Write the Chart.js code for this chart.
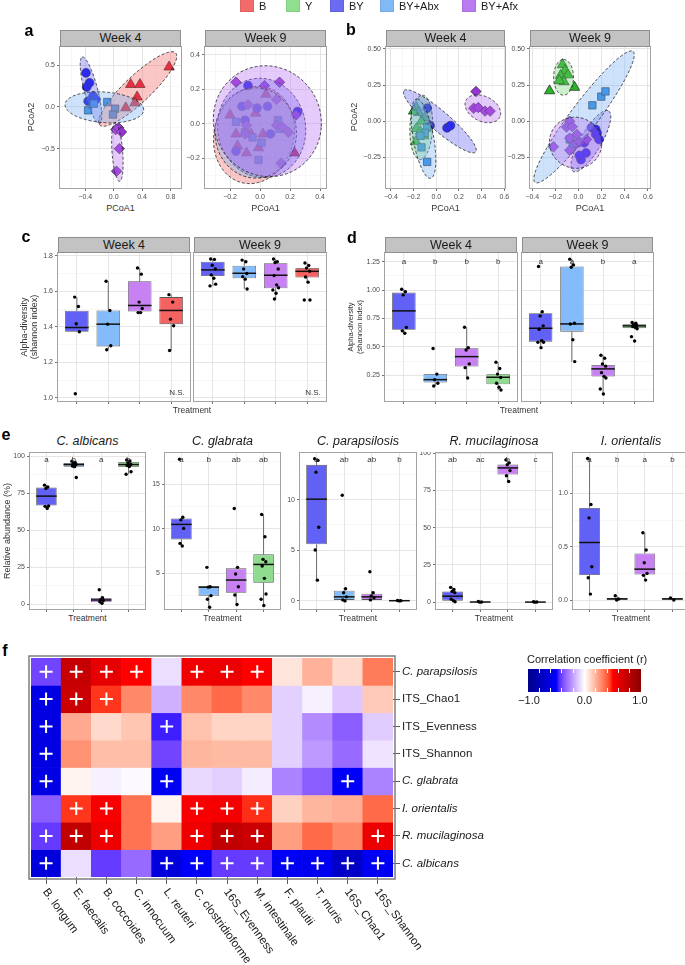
<!DOCTYPE html>
<html>
<head>
<meta charset="utf-8">
<title>Figure</title>
<script src="https://cdn.jsdelivr.net/npm/chart.js@4.4.1/dist/chart.umd.min.js"></script>
<style>
  html, body { margin: 0; padding: 0; background: #fff; }
  #page { position: relative; width: 685px; height: 965px; overflow: hidden; font-family: 'Liberation Sans', Arial, Helvetica, sans-serif; }
  #page canvas { position: absolute; }
  .t { position: absolute; white-space: pre; color: #1a1a1a; z-index: 5; line-height: 1.15; }
  .strip { position: absolute; background: #c3c3c3; border: 1px solid #8f8f8f; box-sizing: border-box; text-align: center; font-size: 12.5px; color: #1a1a1a; z-index: 4; }
  .sw { position: absolute; width: 14px; height: 14px; box-sizing: border-box; border: 1px solid rgba(0,0,0,0.08); z-index: 4; }
</style>
</head>
<body>
<div id="page"></div>
<script>
const FONT = "'Liberation Sans', Arial, Helvetica, sans-serif";
Chart.defaults.font.family = FONT;

// ---------- data ----------
const groups = ['B', 'Y', 'BY', 'BY+Abx', 'BY+Afx'];

// PCoA coordinates [PCoA1, PCoA2]
const pcoaA4 = {
  'BY+Afx': [[0.03,-0.27],[0.07,-0.25],[0.11,-0.30],[0.08,-0.50],[0.04,-0.77]],
  'BY+Abx': [[-0.36,-0.04],[-0.28,0.04],[-0.09,0.06],[0.02,-0.02],[-0.01,-0.09]],
  'BY': [[-0.39,0.41],[-0.34,0.29],[-0.38,0.24],[-0.29,0.13],[-0.25,0.09],[-0.36,0.07]],
  'B': [[0.24,0.27],[0.37,0.27],[0.33,0.12],[0.30,0.05],[0.17,-0.01],[0.78,0.48]]
};
const pcoaA9 = {
  'BY+Afx': [[-0.16,0.24],[0.03,0.22],[0.13,0.24],[0.11,0.14],[-0.08,0.11],[-0.09,-0.01],[0.11,-0.01],[0.15,-0.02],[0.19,-0.05],[0.24,0.05],[0.14,-0.23],[-0.1,-0.06]],
  'BY+Abx': [[-0.16,0.01],[-0.1,-0.05],[-0.05,-0.08],[0.12,0.02],[0.13,-0.03],[0.01,-0.11],[-0.01,-0.21]],
  'BY': [[-0.08,0.22],[-0.12,0.10],[-0.02,0.09],[0.05,0.10],[-0.1,0.02],[0.07,-0.06],[-0.16,-0.16],[0.25,0.07]],
  'B': [[-0.2,0.05],[0.04,0.17],[-0.03,0.06],[-0.16,-0.06],[-0.06,-0.06],[0.02,-0.06],[-0.15,-0.13],[-0.09,-0.17],[-0.01,-0.14],[0.23,-0.17]]
};
const pcoaB4 = {
  'BY+Afx': [[0.35,0.205],[0.33,0.09],[0.37,0.095],[0.43,0.07],[0.475,0.07]],
  'BY+Abx': [[-0.08,-0.045],[-0.1,-0.08],[-0.14,-0.1],[-0.13,-0.18],[-0.08,-0.28]],
  'BY': [[-0.08,0.09],[-0.055,-0.03],[0.095,-0.045],[0.125,-0.03]],
  'Y': [[-0.175,0.095],[-0.155,0.06],[-0.2,0.07],[-0.1,0.025],[-0.13,0.0],[-0.175,-0.05],[-0.18,-0.14],[-0.11,-0.1],[-0.14,-0.07]]
};
const pcoaB9 = {
  'BY+Afx': [[-0.076,0.0],[-0.104,-0.04],[-0.053,-0.037],[-0.216,-0.176],[-0.076,-0.116],[-0.02,-0.153],[-0.014,-0.09],[-0.076,-0.2],[0.07,-0.125],[0.008,-0.143]],
  'BY+Abx': [[0.12,0.11],[0.197,0.17],[0.233,0.206],[-0.076,-0.125],[-0.05,-0.16]],
  'BY': [[0.112,-0.044],[0.149,-0.09],[0.177,-0.125],[0.149,-0.056],[0.05,-0.148],[0.065,-0.218],[0.022,-0.264],[0.008,-0.236],[0.16,-0.08]],
  'Y': [[-0.25,0.21],[-0.138,0.39],[-0.118,0.35],[-0.155,0.315],[-0.09,0.32],[-0.126,0.273],[-0.166,0.28],[-0.034,0.234]]
};

// confidence ellipses: centre and two conjugate semi-axes, in data units
const ellA4 = [
  {g:'B', c:[0.338,0.216], a:[0.535,0.432], b:[0.129,-0.116]},
  {g:'BY', c:[-0.319,0.2], a:[-0.122,0.4], b:[0.091,0.02]},
  {g:'BY+Abx', c:[-0.131,-0.004], a:[0.554,-0.03], b:[0.0,0.184]},
  {g:'BY+Afx', c:[0.052,-0.544], a:[-0.03,0.348], b:[0.075,0.0]}
];
const ellA9 = [
  {g:'B', c:[-0.04,-0.066], a:[0.27,0.03], b:[0.0,0.28]},
  {g:'BY', c:[0.011,-0.025], a:[0.28,-0.1], b:[0.09,0.27]},
  {g:'BY+Abx', c:[-0.029,-0.054], a:[0.27,-0.03], b:[0.03,0.26]},
  {g:'BY+Afx', c:[0.049,0.014], a:[0.36,-0.03], b:[0.02,0.32]}
];
const ellB4 = [
  {g:'Y', c:[-0.132,-0.042], a:[0.01,0.222], b:[0.1,0.0]},
  {g:'BY', c:[0.032,0.0], a:[-0.316,0.211], b:[0.055,0.053]},
  {g:'BY+Abx', c:[-0.112,-0.12], a:[-0.052,0.273], b:[0.095,-0.018]},
  {g:'BY+Afx', c:[0.411,0.086], a:[0.155,-0.045], b:[0.025,0.085]}
];
const ellB9 = [
  {g:'Y', c:[-0.129,0.303], a:[0.0,0.123], b:[0.086,0.0]},
  {g:'BY', c:[0.107,-0.137], a:[0.154,0.208], b:[0.077,-0.039]},
  {g:'BY+Abx', c:[0.048,0.03], a:[0.424,0.451], b:[0.093,-0.059]},
  {g:'BY+Afx', c:[-0.025,-0.148], a:[0.225,-0.02], b:[0.02,0.175]}
];

// box plots: [lower whisker, q1, median, q3, upper whisker]
const cCats = ['BY', 'BY+Abx', 'BY+Afx', 'B'];
const c4Box = [[1.372,1.372,1.396,1.49,1.567],[1.271,1.29,1.415,1.492,1.656],[1.48,1.486,1.52,1.656,1.731],[1.267,1.415,1.492,1.567,1.581]];
const c4Pts = [[1.567,1.514,1.417,1.372,1.024],[1.656,1.492,1.415,1.294,1.271],[1.731,1.696,1.539,1.503,1.48,1.48],[1.581,1.539,1.443,1.406,1.267]];
const c9Box = [[1.63,1.686,1.72,1.766,1.781],[1.613,1.673,1.701,1.744,1.775],[1.556,1.617,1.69,1.757,1.781],[1.651,1.677,1.712,1.731,1.759]];
const c9Pts = [[1.781,1.779,1.746,1.725,1.692,1.673,1.64,1.63],[1.775,1.766,1.725,1.70,1.682,1.668,1.613],[1.781,1.766,1.762,1.725,1.688,1.636,1.62,1.607,1.589,1.556],[1.759,1.745,1.73,1.713,1.68,1.651,1.551,1.551]];

const dCats = ['BY', 'BY+Abx', 'BY+Afx', 'Y'];
const d4Box = [[0.62,0.65,0.817,0.978,1.008],[0.155,0.185,0.211,0.261,0.261],[0.226,0.326,0.414,0.488,0.673],[0.12,0.17,0.232,0.259,0.365]];
const d4Pts = [[1.008,0.985,0.958,0.67,0.641,0.62],[0.485,0.26,0.21,0.18,0.155],[0.673,0.493,0.473,0.35,0.317,0.226],[0.365,0.31,0.26,0.23,0.18,0.144,0.12]];
const d9Box = [[0.493,0.546,0.664,0.797,0.81],[0.37,0.634,0.702,1.208,1.273],[0.085,0.238,0.306,0.34,0.426],[0.655,0.665,0.685,0.70,0.715]];
const d9Pts = [[1.208,0.81,0.773,0.685,0.655,0.555,0.541,0.541,0.493],[1.273,1.222,1.202,0.709,0.702,0.563,0.37],[0.426,0.40,0.35,0.33,0.273,0.24,0.226,0.129,0.085],[0.715,0.708,0.695,0.688,0.68,0.672,0.66,0.59,0.552]];
const d4Letters = ['a', 'b', 'b', 'b'];
const d9Letters = ['a', 'a', 'b', 'a'];

const eCats = ['BY', 'BY+Abx', 'BY+Afx', 'Y'];
const eTitles = ['C. albicans', 'C. glabrata', 'C. parapsilosis', 'R. mucilaginosa', 'I. orientalis'];
const eBox = [
  [[64.8,66.8,73.1,78.9,80.5],[93,93,94.4,95.5,96.6],[0.8,1.5,3.0,4.3,5.5],[87.9,92.8,94.4,96.2,97.5]],
  [[8.06,8.81,10.49,11.16,11.3],[1.2,2.5,3.45,3.55,3.6],[1.5,2.83,4.25,5.56,5.67],[1.4,3.95,6.0,7.13,11.6]],
  [[2.05,5.58,10.04,13.43,14.03],[0,0.1,0.4,1.0,1.3],[0,0.1,0.4,0.7,1.0],[0,0,0.02,0.05,0.05]],
  [[0.3,1.0,4.0,7.2,9.9],[0,0,0.1,0.3,0.5],[81,85.7,90.1,92.3,95.5],[0,0,0.05,0.2,0.3]],
  [[0.056,0.234,0.54,0.865,1.328],[0,0,0.01,0.02,0.04],[0.187,0.24,0.29,0.437,0.631],[0,0,0.01,0.02,0.02]]
];
const ePts = [
  [[80.5,79.2,78.3,66.4,66.2,64.8],[96.6,95.8,95.1,94.4,93.4,93.0,85.7],[9.9,4.5,3.2,2.6,1.8,0.8],[97.5,96.8,95.5,94.4,93.8,93.1,89.5,87.9]],
  [[17.8,11.3,11.0,10.04,8.36,8.06],[5.67,3.5,3.45,2.5,2.1,1.2],[12.28,5.67,4.92,3.5,2.57,1.5],[11.6,9.1,6.57,6.3,5.82,4.44,2.68,2.09,1.4]],
  [[14.03,13.87,12.71,7.27,5.02,2.05],[10.43,1.2,0.8,0.4,0.1,0.0],[2.87,0.8,0.5,0.3,0.1],[0.05,0.02,0.0]],
  [[9.9,8.5,7.2,6.4,2.0,1.0,0.3],[0.5,0.1,0.0],[95.5,93.5,92.2,88.3,84.8,81.0],[0.3,0.1,0.0]],
  [[1.328,0.897,0.771,0.312,0.209,0.056],[0.04,0.01,0.0],[0.631,0.469,0.35,0.25,0.232,0.187],[0.02,0.0]]
];
const eLetters = [['a','b','a','b'],['a','b','ab','ab'],['a','ab','ab','b'],['ab','ac','b','c'],['a','b','a','b']];

// correlation heatmap
const hmRows = ['C. parapsilosis','ITS_Chao1','ITS_Evenness','ITS_Shannon','C. glabrata','I. orientalis','R. mucilaginosa','C. albicans'];
const hmCols = ['B. longum','E. faecalis','B. coccoides','C. innocuum','L. reuteri','C. clostridioforme','16S_Evenness','M. intestinale','F. plautii','T. muris','16S_Chao1','16S_Shannon'];
const hmR = [
  [-0.40,0.74,0.60,0.50,-0.07,0.56,0.58,0.50,0.07,0.20,0.10,0.33],
  [-0.62,0.72,0.46,0.30,-0.17,0.30,0.37,0.30,-0.10,-0.03,-0.12,0.14],
  [-0.62,0.22,0.10,0.15,-0.47,0.16,0.11,0.11,-0.10,-0.25,-0.35,-0.11],
  [-0.62,0.28,0.17,0.17,-0.40,0.19,0.18,0.18,-0.10,-0.22,-0.32,-0.06],
  [-0.62,0.03,-0.03,-0.01,-0.55,-0.08,-0.10,-0.04,-0.27,-0.35,-0.52,-0.27],
  [-0.35,0.46,0.53,0.35,0.03,0.53,0.54,0.47,0.12,0.19,0.21,0.37],
  [-0.42,0.76,0.57,0.35,0.25,0.57,0.76,0.72,0.25,0.37,0.30,0.58],
  [-0.64,-0.07,-0.42,-0.32,-0.64,-0.52,-0.42,-0.42,-0.54,-0.56,-0.74,-0.54]
];
const hmSig = [
  [1,1,1,1,0,1,1,1,0,0,0,0],
  [1,1,1,0,0,0,0,0,0,0,0,0],
  [1,0,0,0,1,0,0,0,0,0,0,0],
  [1,0,0,0,0,0,0,0,0,0,0,0],
  [1,0,0,0,1,0,0,0,0,0,1,0],
  [0,1,1,0,0,1,1,1,0,0,0,0],
  [1,1,1,0,0,1,1,1,0,0,0,1],
  [1,0,0,0,1,1,1,1,1,1,1,1]
];

// ---------- styles ----------
const legendFill = {'B':'#f36a6a','Y':'#8ee08e','BY':'#6a6af2','BY+Abx':'#80b9f5','BY+Afx':'#b97af2'};
const boxFill = {'B':'#f46262','Y':'#8fdc8f','BY':'#6161f6','BY+Abx':'#84bcfb','BY+Afx':'#c781f2'};
const ptFill = {'B':'#e5122f','Y':'#25b525','BY':'#0b0bf2','BY+Abx':'#2b8de6','BY+Afx':'#9933d6'};
const ptShape = {'B':['triangle',6],'Y':['triangle',6],'BY':['circle',4.4],'BY+Abx':['rect',5.2],'BY+Afx':['rectRot',5.2]};
const ellFill = {'B':'rgba(240,96,96,0.36)','Y':'rgba(115,212,115,0.36)','BY':'rgba(96,96,240,0.36)','BY+Abx':'rgba(120,178,243,0.36)','BY+Afx':'rgba(182,110,243,0.36)'};
const jit = [-0.07,0.05,-0.02,0.08,-0.05,0.03,0.09,-0.09,0.01,-0.04];

const page = document.getElementById('page');
const f0 = v => String(v);
const f1 = v => (v < 0 ? '\u2212' : '') + Math.abs(v).toFixed(1);
const f2 = v => (v < 0 ? '\u2212' : '') + Math.abs(v).toFixed(2);

// ---------- colour scale (Lab interpolation like ggplot) ----------
function hex2rgb(h) { return [parseInt(h.slice(1,3),16), parseInt(h.slice(3,5),16), parseInt(h.slice(5,7),16)]; }
function rgb2lab(c) {
  const f = v => { v /= 255; return v <= 0.04045 ? v / 12.92 : Math.pow((v + 0.055) / 1.055, 2.4); };
  const R = f(c[0]), G = f(c[1]), B = f(c[2]);
  let X = (R*0.4124 + G*0.3576 + B*0.1805) / 0.95047, Y = R*0.2126 + G*0.7152 + B*0.0722, Z = (R*0.0193 + G*0.1192 + B*0.9505) / 1.08883;
  const g = t => t > 0.008856 ? Math.cbrt(t) : 7.787*t + 16/116;
  X = g(X); Y = g(Y); Z = g(Z);
  return [116*Y - 16, 500*(X - Y), 200*(Y - Z)];
}
function lab2rgb(l) {
  let Y = (l[0] + 16) / 116, X = l[1] / 500 + Y, Z = Y - l[2] / 200;
  const h = t => { const t3 = t*t*t; return t3 > 0.008856 ? t3 : (t - 16/116) / 7.787; };
  X = h(X) * 0.95047; Y = h(Y); Z = h(Z) * 1.08883;
  const R = X*3.2406 - Y*1.5372 - Z*0.4986, G = -X*0.9689 + Y*1.8758 + Z*0.0415, B = X*0.0557 - Y*0.2040 + Z*1.0570;
  const c = v => { v = v <= 0.0031308 ? 12.92*v : 1.055*Math.pow(v, 1/2.4) - 0.055; return Math.max(0, Math.min(255, Math.round(v*255))); };
  return [c(R), c(G), c(B)];
}
const cmapStops = [[-1,'#00008B'],[-0.5,'#0000FF'],[0,'#FFFFFF'],[0.5,'#FF0000'],[1,'#8B0000']].map(s => [s[0], rgb2lab(hex2rgb(s[1]))]);
function cmap(v) {
  v = Math.max(-1, Math.min(1, v));
  let i = 0;
  while (i < cmapStops.length - 2 && v > cmapStops[i+1][0]) i++;
  const [v0, l0] = cmapStops[i], [v1, l1] = cmapStops[i+1];
  const t = (v - v0) / (v1 - v0);
  const rgb = lab2rgb([0,1,2].map(k => l0[k] + (l1[k] - l0[k]) * t));
  return 'rgb(' + rgb.join(',') + ')';
}

// ---------- helpers ----------
function txt(x, y, s, o = {}) {
  const d = document.createElement('div');
  d.className = 't';
  d.textContent = s;
  d.style.left = x + 'px'; d.style.top = y + 'px';
  d.style.fontSize = (o.size || 11) + 'px';
  if (o.italic) d.style.fontStyle = 'italic';
  if (o.bold) d.style.fontWeight = 'bold';
  if (o.color) d.style.color = o.color;
  if (o.align) d.style.textAlign = o.align;
  let tr = '';
  if (o.center) tr += 'translate(-50%,-50%) ';
  if (o.rot) tr += 'rotate(' + o.rot + 'deg)';
  d.style.transform = tr;
  page.appendChild(d);
  return d;
}
function strip(l, t, w, h, s) {
  const d = document.createElement('div');
  d.className = 'strip';
  Object.assign(d.style, {left: l + 'px', top: t + 'px', width: w + 'px', height: h + 'px', lineHeight: (h - 2) + 'px'});
  d.textContent = s;
  page.appendChild(d);
}
function mkCanvas(plot, m) {
  const c = document.createElement('canvas');
  const w = plot[2] - plot[0] + m[0] + m[2], h = plot[3] - plot[1] + m[1] + m[3];
  c.width = w; c.height = h;
  Object.assign(c.style, {left: (plot[0] - m[0]) + 'px', top: (plot[1] - m[1]) + 'px', width: w + 'px', height: h + 'px'});
  page.appendChild(c);
  return c;
}
function axis(o) {
  const all = o.major.concat(o.minor || []).sort((p, q) => p - q);
  const isMaj = v => o.major.some(mv => Math.abs(mv - v) < 1e-9);
  const show = o.show !== false;
  return {
    type: 'linear', min: o.min, max: o.max, offset: false,
    afterBuildTicks: s => { s.ticks = all.map(v => ({value: v})); },
    afterFit: s => {
      if (o.h !== undefined) s.height = o.h; else s.width = o.w;
      s.paddingLeft = s.paddingRight = s.paddingTop = s.paddingBottom = 0;
    },
    ticks: {
      display: show && !!o.fmt, autoSkip: false, maxRotation: 0, minRotation: 0, padding: 2,
      color: '#4d4d4d', font: {family: FONT, size: 7},
      callback: v => (isMaj(v) && o.fmt) ? o.fmt(v) : ''
    },
    grid: {
      offset: false, drawTicks: show, tickLength: 3, tickWidth: 0.7,
      tickColor: c => (c.tick && isMaj(c.tick.value)) ? '#333' : 'rgba(0,0,0,0)',
      color: c => (c.tick && isMaj(c.tick.value)) ? '#e2e2e2' : '#f2f2f2',
      lineWidth: c => (c.tick && isMaj(c.tick.value)) ? 0.9 : 0.6
    },
    border: {display: false}
  };
}
function baseOpts(m, xs, ys) {
  return {
    responsive: false, animation: false, devicePixelRatio: 1, events: [],
    layout: {autoPadding: false, padding: {left: 0, top: m[1], right: m[2], bottom: 0}},
    plugins: {legend: {display: false}, tooltip: {enabled: false}},
    scales: {x: xs, y: ys}
  };
}

// ---------- plugins ----------
const framePlugin = () => ({
  id: 'frame',
  afterDraw(ch) {
    const {ctx, chartArea: a} = ch;
    ctx.save(); ctx.strokeStyle = '#a3a3a3'; ctx.lineWidth = 1;
    ctx.strokeRect(a.left - 0.5, a.top - 0.5, a.width + 1, a.height + 1);
    ctx.restore();
  }
});
const ellPlugin = list => ({
  id: 'ellipses',
  afterDatasetsDraw(ch) {
    const {ctx, chartArea: a, scales: {x, y}} = ch;
    ctx.save();
    ctx.beginPath(); ctx.rect(a.left, a.top, a.width, a.height); ctx.clip();
    list.forEach(e => {
      ctx.beginPath();
      for (let k = 0; k <= 120; k++) {
        const t = k / 120 * Math.PI * 2;
        const px = x.getPixelForValue(e.c[0] + e.a[0] * Math.cos(t) + e.b[0] * Math.sin(t));
        const py = y.getPixelForValue(e.c[1] + e.a[1] * Math.cos(t) + e.b[1] * Math.sin(t));
        if (k) ctx.lineTo(px, py); else ctx.moveTo(px, py);
      }
      ctx.closePath();
      ctx.fillStyle = ellFill[e.g]; ctx.fill();
      ctx.setLineDash([3, 2]); ctx.lineWidth = 0.8; ctx.strokeStyle = '#222'; ctx.stroke();
      ctx.setLineDash([]);
    });
    ctx.restore();
  }
});
const boxPlugin = box => ({
  id: 'boxes',
  beforeDatasetsDraw(ch) {
    const {ctx, scales: {x, y}} = ch;
    ctx.save(); ctx.strokeStyle = '#4d4d4d'; ctx.lineWidth = 0.8;
    box.forEach((b, i) => {
      const px = x.getPixelForValue(i + 1);
      ctx.beginPath();
      ctx.moveTo(px, y.getPixelForValue(b[0])); ctx.lineTo(px, y.getPixelForValue(b[1]));
      ctx.moveTo(px, y.getPixelForValue(b[3])); ctx.lineTo(px, y.getPixelForValue(b[4]));
      ctx.stroke();
    });
    ctx.restore();
  },
  afterDatasetDraw(ch, args) {
    if (ch.data.datasets[args.index].type !== 'bar') return;
    const {ctx, scales: {x, y}} = ch;
    ctx.save(); ctx.strokeStyle = '#111'; ctx.lineWidth = 1.5;
    box.forEach((b, i) => {
      const py = y.getPixelForValue(b[2]);
      ctx.beginPath();
      ctx.moveTo(x.getPixelForValue(i + 1 - 0.375), py);
      ctx.lineTo(x.getPixelForValue(i + 1 + 0.375), py);
      ctx.stroke();
    });
    ctx.restore();
  }
});
const letterPlugin = (labels, off) => ({
  id: 'letters',
  afterDatasetsDraw(ch) {
    if (!labels) return;
    const {ctx, chartArea: a, scales: {x}} = ch;
    ctx.save(); ctx.font = '8px ' + FONT; ctx.fillStyle = '#333';
    ctx.textAlign = 'center'; ctx.textBaseline = 'middle';
    labels.forEach((l, i) => ctx.fillText(l, x.getPixelForValue(i + 1), a.top + off));
    ctx.restore();
  }
});

// ---------- chart builders ----------
function pcoa(plot, m, xs, ys, dataObj, ells) {
  const cv = mkCanvas(plot, m);
  const ds = Object.keys(dataObj).map(g => ({
    type: 'scatter',
    data: dataObj[g].map(p => ({x: p[0], y: p[1]})),
    pointStyle: ptShape[g][0], pointRadius: ptShape[g][1],
    pointBackgroundColor: ptFill[g], pointBorderColor: '#222', pointBorderWidth: 0.7
  }));
  new Chart(cv, {type: 'scatter', data: {datasets: ds}, options: baseOpts(m, xs, ys), plugins: [ellPlugin(ells), framePlugin()]});
}
function boxChart(plot, m, cats, box, pts, ys, letters, off) {
  const cv = mkCanvas(plot, m);
  const pointData = [];
  pts.forEach((arr, i) => arr.forEach((v, j) => pointData.push({x: i + 1 + jit[j % jit.length], y: v})));
  const xs = axis({min: 0.4, max: 4.6, major: [1, 2, 3, 4], h: m[3]});
  new Chart(cv, {
    type: 'bar',
    data: {datasets: [
      {type: 'scatter', order: 1, data: pointData, pointRadius: 1.7, pointBackgroundColor: '#000', pointBorderWidth: 0},
      {type: 'bar', order: 2, data: box.map((b, i) => ({x: i + 1, y: [b[1], b[3]]})),
       backgroundColor: cats.map(c => boxFill[c]), borderColor: '#595959', borderWidth: 0.8,
       borderSkipped: false, barPercentage: 0.75, categoryPercentage: 1, grouped: false}
    ]},
    options: baseOpts(m, xs, ys),
    plugins: [boxPlugin(box), letterPlugin(letters, off), framePlugin()]
  });
}

// ---------- panel a / b ----------
pcoa([60,47,181,188], [30,1,4,12],
  axis({min:-0.756, max:0.948, major:[-0.4,0,0.4,0.8], minor:[-0.6,-0.2,0.2,0.6], h:12, fmt:f1}),
  axis({min:-0.972, max:0.72, major:[-0.5,0,0.5], minor:[-0.75,-0.25,0.25], w:30, fmt:f1}), pcoaA4, ellA4);
pcoa([205,47,326,188], [22,1,8,12],
  axis({min:-0.367, max:0.44, major:[-0.2,0,0.2,0.4], minor:[-0.3,-0.1,0.1,0.3], h:12, fmt:f1}),
  axis({min:-0.373, max:0.444, major:[-0.2,0,0.2,0.4], minor:[-0.3,-0.1,0.1,0.3], w:22, fmt:f1}), pcoaA9, ellA9);
pcoa([386,47,505,188], [32,1,8,12],
  axis({min:-0.443, max:0.606, major:[-0.4,-0.2,0,0.2,0.4,0.6], minor:[-0.3,-0.1,0.1,0.3,0.5], h:12, fmt:f1}),
  axis({min:-0.46, max:0.512, major:[-0.25,0,0.25,0.5], minor:[-0.375,-0.125,0.125,0.375], w:32, fmt:f2}), pcoaB4, ellB4);
pcoa([530,47,650,188], [25,1,10,12],
  axis({min:-0.419, max:0.618, major:[-0.4,-0.2,0,0.2,0.4,0.6], minor:[-0.3,-0.1,0.1,0.3,0.5], h:12, fmt:f1}),
  axis({min:-0.46, max:0.512, major:[-0.25,0,0.25,0.5], minor:[-0.375,-0.125,0.125,0.375], w:25, fmt:f2}), pcoaB9, ellB9);

// ---------- panel c / d ----------
const cY = {min:0.983, max:1.815, major:[1.0,1.2,1.4,1.6,1.8], minor:[1.1,1.3,1.5,1.7]};
boxChart([58,253,190,401], [22,1,2,4], cCats, c4Box, c4Pts, axis(Object.assign({w:22, fmt:f1}, cY)), null, 0);
boxChart([194,253,326,401], [1,1,2,4], cCats, c9Box, c9Pts, axis(Object.assign({w:1, show:false}, cY)), null, 0);
const dY = {min:0.023, max:1.327, major:[0.25,0.5,0.75,1.0,1.25], minor:[0.125,0.375,0.625,0.875,1.125]};
boxChart([385,253,517,401], [26,1,2,4], dCats, d4Box, d4Pts, axis(Object.assign({w:26, fmt:f2}, dY)), d4Letters, 8.7);
boxChart([522,253,653,401], [1,1,2,4], dCats, d9Box, d9Pts, axis(Object.assign({w:1, show:false}, dY)), d9Letters, 8.7);

// ---------- panel e ----------
const ePlots = [[30,453,145,609],[165,453,280,609],[300,453,416,609],[436,453,552,609],[573,453,689,609]];
const eAxes = [
  {min:-3.1, max:102.2, major:[0,25,50,75,100], minor:[12.5,37.5,62.5,87.5], fmt:f0},
  {min:1.0, max:18.5, major:[5,10,15], minor:[2.5,7.5,12.5,17.5], fmt:f0},
  {min:-0.8, max:14.6, major:[0,5,10], minor:[2.5,7.5,12.5], fmt:f0},
  {min:-4.6, max:100.1, major:[0,25,50,75,100], minor:[12.5,37.5,62.5,87.5], fmt:f0},
  {min:-0.084, max:1.38, major:[0,0.5,1.0], minor:[0.25,0.75,1.25], fmt:f1}
];
ePlots.forEach((p, i) => {
  const m = [i === 0 ? 25 : 20, 1, 2, 4];
  boxChart(p, m, eCats, eBox[i], ePts[i], axis(Object.assign({w: m[0]}, eAxes[i])), eLetters[i], 6.5);
  txt((p[0] + p[2]) / 2, 441, eTitles[i], {size: 12.5, italic: true, center: true});
  txt((p[0] + p[2]) / 2, 619, 'Treatment', {size: 8.5, center: true, color: '#333'});
});

// ---------- panel f: heatmap ----------
(function () {
  const plot = [31,658,393,877], m = [4,4,92,90];
  const cv = mkCanvas(plot, m);
  const ds = [{
    type: 'scatter', order: 1,
    data: hmSig.flatMap((row, i) => row.map((s, j) => s ? {x: hmCols[j], y: 8 - i} : null).filter(Boolean)),
    pointStyle: 'cross', pointRadius: 6.5, pointBorderColor: '#fff', pointBorderWidth: 2
  }].concat(hmRows.map((r, i) => ({
    type: 'bar', order: 2, label: r,
    data: hmCols.map(() => [8 - i - 0.5, 8 - i + 0.5]),
    backgroundColor: hmR[i].map(cmap), borderWidth: 0,
    barPercentage: 1, categoryPercentage: 1, grouped: false
  })));
  const isSp = s => /^[A-Z]\. /.test(s);
  const colLabels = {
    id: 'colLabels',
    afterDraw(ch) {
      const {ctx, chartArea: a, scales: {x}} = ch;
      ctx.save();
      ctx.strokeStyle = '#7d7d7d'; ctx.lineWidth = 1.5;
      ctx.strokeRect(a.left - 2, a.top - 2, a.width + 4, a.height + 4);
      ctx.font = '11.5px ' + FONT; ctx.fillStyle = '#1a1a1a';
      ctx.textAlign = 'left'; ctx.textBaseline = 'middle';
      hmCols.forEach((c, j) => {
        ctx.save();
        ctx.translate(x.getPixelForValue(j) - 1, a.bottom + 13);
        ctx.rotate(54 * Math.PI / 180);
        ctx.fillText(c, 0, 0);
        ctx.restore();
      });
      ctx.restore();
    }
  };
  new Chart(cv, {
    type: 'bar',
    data: {labels: hmCols, datasets: ds},
    options: {
      responsive: false, animation: false, devicePixelRatio: 1, events: [],
      layout: {autoPadding: false, padding: {left: m[0], top: m[1], right: 0, bottom: m[3] - 7}},
      plugins: {legend: {display: false}, tooltip: {enabled: false}},
      scales: {
        x: {
          type: 'category', labels: hmCols, offset: true,
          grid: {offset: false, drawOnChartArea: false, drawTicks: true, tickLength: 7, tickColor: '#333', tickWidth: 0.8},
          ticks: {display: false}, border: {display: false},
          afterFit: s => { s.height = 7; s.paddingLeft = s.paddingRight = 0; }
        },
        y: {
          type: 'linear', position: 'right', min: 0.5, max: 8.5,
          afterBuildTicks: s => { s.ticks = [1,2,3,4,5,6,7,8].map(v => ({value: v})); },
          afterFit: s => { s.width = m[2]; s.paddingTop = s.paddingBottom = 0; },
          ticks: {
            autoSkip: false, padding: 2, color: '#1a1a1a',
            callback: v => hmRows[8 - v],
            font: c => ({family: FONT, size: 11.5, style: (c.tick && isSp(hmRows[8 - c.tick.value])) ? 'italic' : 'normal'})
          },
          grid: {drawOnChartArea: false, drawTicks: true, tickLength: 7, tickColor: '#333', tickWidth: 0.8},
          border: {display: false}
        }
      }
    },
    plugins: [colLabels]
  });
})();

// colour bar
(function () {
  const bar = document.createElement('div');
  const stops = [];
  for (let k = 0; k <= 40; k++) stops.push(cmap(-1 + k / 20) + ' ' + (k * 2.5) + '%');
  Object.assign(bar.style, {position: 'absolute', left: '528px', top: '669px', width: '113px', height: '23px',
    background: 'linear-gradient(to right,' + stops.join(',') + ')', zIndex: 4});
  page.appendChild(bar);
  for (let k = 1; k <= 9; k++) {
    const x = 113 * k / 10;
    ['0px', '19px'].forEach(top => {
      const tk = document.createElement('div');
      Object.assign(tk.style, {position: 'absolute', left: (x - 0.5) + 'px', top: top, width: '1px', height: '4px', background: '#fff'});
      bar.appendChild(tk);
    });
  }
  txt(527, 653, 'Correlation coefficient (r)', {size: 11});
  txt(529, 700, '\u22121.0', {size: 11, center: true});
  txt(584.5, 700, '0.0', {size: 11, center: true});
  txt(640, 700, '1.0', {size: 11, center: true});
})();

// ---------- strips and labels ----------
strip(60, 30, 121, 17, 'Week 4'); strip(205, 30, 121, 17, 'Week 9');
strip(386, 30, 119, 17, 'Week 4'); strip(530, 30, 120, 17, 'Week 9');
strip(58, 237, 132, 16, 'Week 4'); strip(194, 237, 132, 16, 'Week 9');
strip(385, 237, 132, 16, 'Week 4'); strip(522, 237, 131, 16, 'Week 9');

txt(29, 31, 'a', {size: 16, bold: true, center: true, color: '#000'});
txt(351, 30, 'b', {size: 16, bold: true, center: true, color: '#000'});
txt(26, 237, 'c', {size: 16, bold: true, center: true, color: '#000'});
txt(352, 238, 'd', {size: 16, bold: true, center: true, color: '#000'});
txt(6, 435, 'e', {size: 16, bold: true, center: true, color: '#000'});
txt(5, 651, 'f', {size: 16, bold: true, center: true, color: '#000'});

[120.5, 265.5, 445.5, 590].forEach(x => txt(x, 208, 'PCoA1', {size: 9, center: true, color: '#333'}));
txt(31, 117, 'PCoA2', {size: 9, center: true, rot: -90, color: '#333'});
txt(354, 117, 'PCoA2', {size: 9, center: true, rot: -90, color: '#333'});
txt(29, 327, 'Alpha-diversity\n(shannon index)', {size: 9, center: true, rot: -90, align: 'center', color: '#333'});
txt(356, 327, 'Alpha-diversity\n(shannon index)', {size: 7.5, center: true, rot: -90, align: 'center', color: '#333'});
txt(192, 411, 'Treatment', {size: 8.5, center: true, color: '#333'});
txt(519, 411, 'Treatment', {size: 8.5, center: true, color: '#333'});
txt(177, 393, 'N.S.', {size: 8, center: true, color: '#333'});
txt(313, 393, 'N.S.', {size: 8, center: true, color: '#333'});
txt(7, 531, 'Relative abundance (%)', {size: 9, center: true, rot: -90, color: '#333'});

// legend
const legendX = {'B': 240, 'Y': 286, 'BY': 330, 'BY+Abx': 380, 'BY+Afx': 462};
groups.forEach(g => {
  const s = document.createElement('div');
  s.className = 'sw';
  Object.assign(s.style, {left: legendX[g] + 'px', top: '-2px', background: legendFill[g]});
  page.appendChild(s);
  txt(legendX[g] + 19, 0, g, {size: 11});
});
</script>
</body>
</html>
